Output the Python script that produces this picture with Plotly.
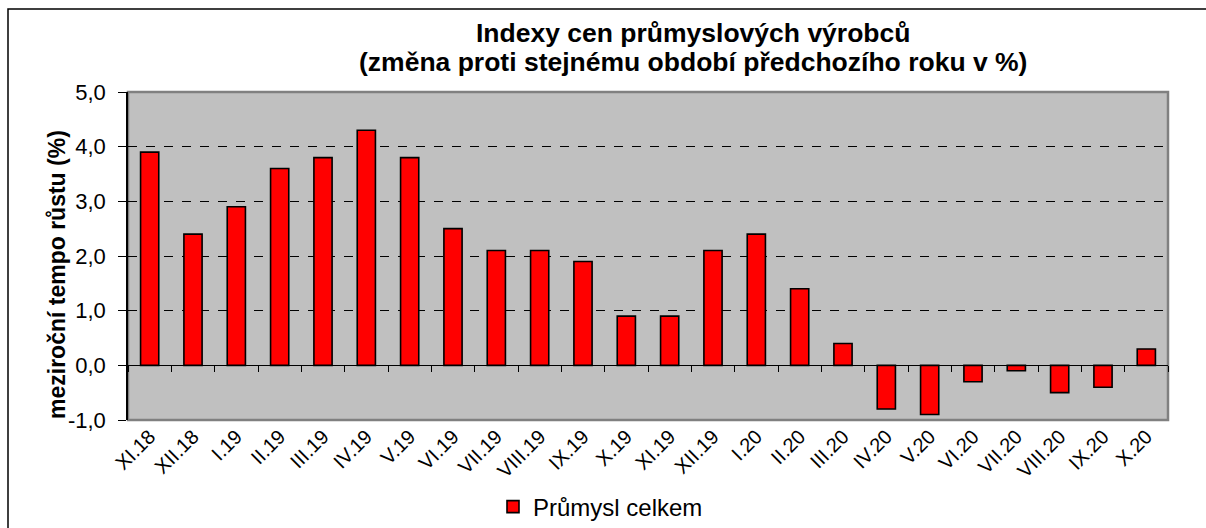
import plotly.graph_objects as go

categories = ["XI.18", "XII.18", "I.19", "II.19", "III.19", "IV.19", "V.19", "VI.19",
              "VII.19", "VIII.19", "IX.19", "X.19", "XI.19", "XII.19", "I.20", "II.20",
              "III.20", "IV.20", "V.20", "VI.20", "VII.20", "VIII.20", "IX.20", "X.20"]
values = [3.9, 2.4, 2.9, 3.6, 3.8, 4.3, 3.8, 2.5, 2.1, 2.1, 1.9, 0.9, 0.9, 2.1, 2.4, 1.4,
          0.4, -0.8, -0.9, -0.3, -0.1, -0.5, -0.4, 0.3]
y_ticks = [-1, 0, 1, 2, 3, 4, 5]
y_ticklabels = ["-1,0", "0,0", "1,0", "2,0", "3,0", "4,0", "5,0"]
series_name = "Průmysl celkem"
title_lines = ["Indexy cen průmyslových výrobců",
               "(změna proti stejnému období předchozího roku v %)"]
y_title = "meziroční tempo růstu (%)"

FONT = "Liberation Sans, Arial, sans-serif"
W, H = 1206, 528
ML, MR, MT, MB = 128, 38, 92, 108
plot_w = W - ML - MR
plot_h = H - MT - MB
zero_pos = (0 - (-1)) / (5 - (-1))


def px_x(px):
    return (px - ML) / plot_w


def px_y(py):
    return (H - MB - py) / plot_h


fig = go.Figure()
fig.add_trace(go.Bar(
    x=categories, y=values, name=series_name,
    marker=dict(color="#FF0000", line=dict(color="#000000", width=1.6)),
    showlegend=True,
))
# invisible trace carrying the zero-line tick axis
fig.add_trace(go.Scatter(x=categories, y=[None] * len(categories), xaxis="x2",
                         showlegend=False, hoverinfo="skip", mode="markers"))

annotations = [
    dict(text=y_title, xref="paper", yref="paper",
         x=px_x(57), y=px_y(275), textangle=-90, showarrow=False,
         xanchor="center", yanchor="middle",
         font=dict(size=23, family=FONT, color="black", weight="bold")),
]
for line, cy in zip(title_lines, [33, 62]):
    annotations.append(dict(
        text=line, xref="paper", yref="paper", x=px_x(693), y=px_y(cy),
        xanchor="center", yanchor="middle", showarrow=False,
        font=dict(size=26.5, family=FONT, color="black", weight="bold")))

fig.update_layout(
    width=W, height=H,
    margin=dict(l=ML, r=MR, t=MT, b=MB, autoexpand=False),
    paper_bgcolor="white",
    plot_bgcolor="#C0C0C0",
    font=dict(family=FONT, color="black"),
    bargap=0.58,
    xaxis=dict(
        type="category", showgrid=False, zeroline=False, automargin=False,
        showline=False, ticks="", tickangle=-45,
        tickfont=dict(size=20, family=FONT), range=[-0.5, len(categories) - 0.5],
    ),
    xaxis2=dict(
        type="category", overlaying="x", matches="x", anchor="free", position=zero_pos,
        side="bottom", showgrid=False, zeroline=False, showline=True, linecolor="black",
        linewidth=1.2, ticks="outside", tickson="boundaries", ticklen=6, tickcolor="black",
        showticklabels=False, automargin=False,
    ),
    yaxis=dict(
        range=[-1, 5], tickvals=y_ticks, ticktext=y_ticklabels, automargin=False,
        showgrid=True, gridcolor="black", griddash="dash", gridwidth=0.8,
        zeroline=False, showline=True, linecolor="black", linewidth=1.5,
        ticks="outside", ticklen=8, tickcolor="black", ticklabelstandoff=8,
        tickfont=dict(size=22, family=FONT),
    ),
    legend=dict(
        orientation="h", x=px_x(493), xanchor="left", y=px_y(507), yanchor="middle",
        font=dict(size=24, family=FONT), bgcolor="rgba(0,0,0,0)",
        itemwidth=30,
    ),
    annotations=annotations,
    shapes=[
        dict(type="rect", xref="paper", yref="paper", x0=0, x1=1, y0=0, y1=1,
             line=dict(color="#808080", width=2.5), layer="below"),
        dict(type="rect", xref="paper", yref="paper",
             x0=px_x(8), x1=px_x(W + 20), y0=px_y(H + 20), y1=px_y(9),
             line=dict(color="black", width=1.5)),
    ],
)

fig.write_html("out.html", config={"displayModeBar": False},
               post_script="document.body.style.margin='0';")
